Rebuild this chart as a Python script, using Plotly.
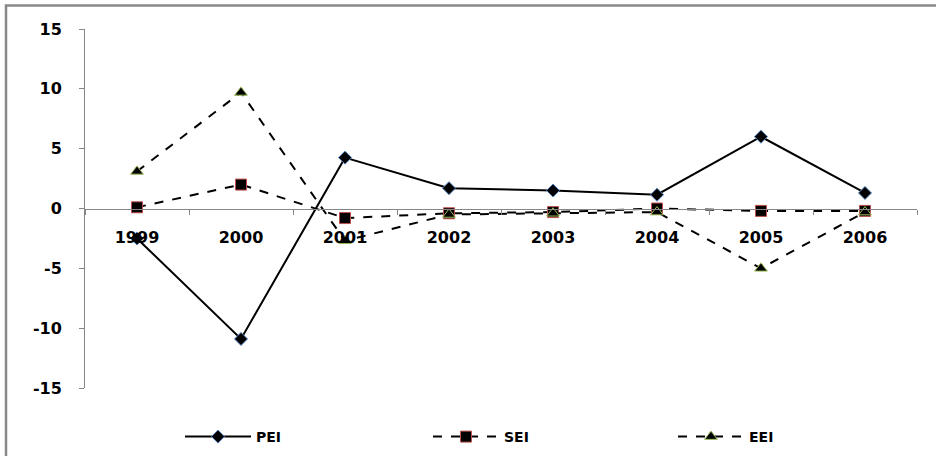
import plotly.graph_objects as go

years = ["1999", "2000", "2001", "2002", "2003", "2004", "2005", "2006"]
pei = [-2.5, -10.9, 4.25, 1.7, 1.5, 1.15, 6.0, 1.3]
sei = [0.1, 2.0, -0.8, -0.4, -0.3, 0.0, -0.2, -0.2]
eei = [3.1, 9.7, -2.7, -0.5, -0.4, -0.3, -5.0, -0.3]
y_ticks = [-15, -10, -5, 0, 5, 10, 15]
y_tick_labels = ["-15", "-10", "-5", "0", "5", "10", "15"]

W, H = 936, 456
L, R, T, B = 85, 19, 29, 68
pw, ph = W - L - R, H - T - B

def px_x(p):
    return (p - L) / pw

def px_y(p):
    return (H - B - p) / ph

fig = go.Figure()
fig.add_trace(go.Scatter(
    x=years, y=pei, name="PEI", mode="lines+markers", legend="legend",
    line=dict(color="black", width=2),
    marker=dict(symbol="diamond", size=10, color="black", line=dict(color="#4f81bd", width=1)),
))
fig.add_trace(go.Scatter(
    x=years, y=sei, name="SEI", mode="lines+markers", legend="legend2",
    line=dict(color="black", width=2, dash="dash"),
    marker=dict(symbol="square", size=11, color="black", line=dict(color="#c0504d", width=1)),
))
fig.add_trace(go.Scatter(
    x=years, y=eei, name="EEI", mode="lines+markers", legend="legend3",
    line=dict(color="black", width=2, dash="dash"),
    marker=dict(symbol="triangle-up", size=11, color="black", line=dict(color="#9bbb59", width=1)),
))

leg_font = dict(family="DejaVu Sans", size=14, color="black", weight="bold")

def leg(xpx):
    return dict(
        orientation="h", x=px_x(xpx), y=px_y(437), xanchor="left", yanchor="middle",
        itemwidth=66, font=leg_font, bgcolor="rgba(0,0,0,0)",
    )

fig.update_layout(
    width=W, height=H,
    margin=dict(l=L, r=R, t=T, b=B, autoexpand=False),
    paper_bgcolor="white", plot_bgcolor="white",
    font=dict(family="DejaVu Sans", size=13, color="black"),
    showlegend=True,
    legend=leg(180),
    legend2=leg(428),
    legend3=leg(673),
    xaxis=dict(
        type="category", range=[-0.5, 7.5],
        anchor="free", position=0.5,
        showline=True, linecolor="#868686", linewidth=1,
        ticks="outside", ticklen=5, tickcolor="#868686", tickson="boundaries",
        ticklabelstandoff=14,
        showgrid=False, zeroline=False,
        tickfont=dict(family="DejaVu Sans", size=16, color="black", weight="bold"),
    ),
    yaxis=dict(
        range=[-15, 15], tickvals=y_ticks, ticktext=y_tick_labels,
        showline=True, linecolor="#868686", linewidth=1,
        ticks="outside", ticklen=5, tickcolor="#868686",
        ticklabelstandoff=14,
        showgrid=False, zeroline=False,
        tickfont=dict(family="DejaVu Sans", size=16, color="black", weight="bold"),
    ),
    shapes=[dict(
        type="rect", xref="paper", yref="paper",
        x0=px_x(6), x1=px_x(960), y0=px_y(480), y1=px_y(5.5),
        line=dict(color="#888888", width=2.5), fillcolor="rgba(0,0,0,0)", layer="below",
    )],
)

fig.write_html("out.html", config={"displayModeBar": False},
               post_script="document.body.style.margin='0';")
